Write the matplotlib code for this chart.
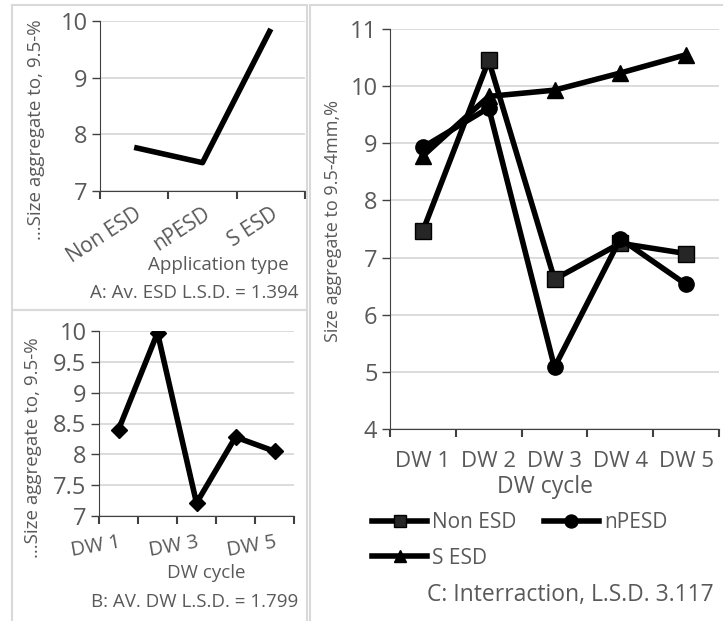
import matplotlib
matplotlib.use("Agg")
import matplotlib.pyplot as plt
from matplotlib.patches import Rectangle

plt.rcParams['font.family'] = ['Open Sans', 'DejaVu Sans']

# data
app_types = ['Non ESD', 'nPESD', 'S ESD']
app_means = [7.77, 7.50, 9.86]

dw_cycles = ['DW 1', 'DW 2', 'DW 3', 'DW 4', 'DW 5']
dw_means = [8.40, 9.97, 7.21, 8.28, 8.05]

non_esd = [7.47, 10.45, 6.62, 7.25, 7.07]
npesd = [8.93, 9.62, 5.08, 7.33, 6.53]
s_esd = [8.78, 9.82, 9.93, 10.23, 10.55]

W, H = 723, 621
fig = plt.figure(figsize=(W / 100, H / 100), dpi=100)

GRAY = '#595959'
GRID = '#d9d9d9'


def px_axes(x0, y0, x1, y1):
    # pixel box (top-left origin) -> figure axes
    return fig.add_axes([x0 / W, 1 - y1 / H, (x1 - x0) / W, (y1 - y0) / H])


def frame(x0, y0, x1, y1):
    fig.patches.append(Rectangle((x0 / W, 1 - y1 / H), (x1 - x0) / W, (y1 - y0) / H,
                                 transform=fig.transFigure, fill=False,
                                 edgecolor=GRID, linewidth=1.5))


def style(ax, n):
    ax.set_xlim(0, n)
    for s in ['top', 'right']:
        ax.spines[s].set_visible(False)
    ax.spines['left'].set_color('#404040')
    ax.spines['bottom'].set_color('#404040')
    ax.grid(axis='y', color=GRID, linewidth=1.3)
    ax.set_axisbelow(True)
    ax.set_xticks(range(n + 1), minor=False)
    ax.set_xticks([i + 0.5 for i in range(n)], minor=True)
    ax.tick_params(axis='x', which='major', length=6, width=1.5, color='#404040', labelbottom=False)
    ax.tick_params(axis='x', which='minor', length=0, colors=GRAY)
    ax.tick_params(axis='y', length=6, width=1, color='#404040', labelcolor=GRAY, labelsize=17, pad=3)


frame(12, 5, 307, 310)
frame(12, 310, 307, 640)
frame(310, 5, 740, 640)

# Panel A
axA = px_axes(100, 21, 305, 191)
xa = [i + 0.5 for i in range(len(app_types))]
axA.plot(xa, app_means, color='black', linewidth=4, solid_capstyle='butt')
style(axA, len(app_types))
axA.set_ylim(7, 10)
axA.set_yticks([7, 8, 9, 10])
axA.set_xticklabels(app_types, minor=True, rotation=33, ha='right', va='top',
                    rotation_mode='anchor', color=GRAY)
axA.tick_params(axis='x', which='minor', labelsize=15, pad=9)
fig.text(36 / W, 1 - 130 / H, '...Size aggregate to, 9.5-%', rotation=90, ha='center', va='center',
         color=GRAY, fontsize=13.5)
fig.text(218 / W, 1 - 265 / H, 'Application type', ha='center', va='center', color=GRAY, fontsize=13.5)
fig.text(298 / W, 1 - 293 / H, 'A: Av. ESD L.S.D. = 1.394', ha='right', va='center', color=GRAY,
         fontsize=13.5)

# Panel B
axB = px_axes(99, 331, 294, 516)
xb = [i + 0.5 for i in range(len(dw_cycles))]
axB.plot(xb, dw_means, color='black', linewidth=4, marker='D', markersize=8)
style(axB, len(dw_cycles))
axB.set_ylim(7, 10)
axB.set_yticks([7, 7.5, 8, 8.5, 9, 9.5, 10])
axB.set_yticklabels(['7', '7.5', '8', '8.5', '9', '9.5', '10'])
axB.set_xticklabels([c if i % 2 == 0 else '' for i, c in enumerate(dw_cycles)], minor=True,
                    rotation=10, ha='right', va='top', rotation_mode='anchor', color=GRAY)
axB.tick_params(axis='x', which='minor', labelsize=14.5, pad=12)
fig.text(33 / W, 1 - 448 / H, '...Size aggregate to, 9.5-%', rotation=90, ha='center', va='center',
         color=GRAY, fontsize=13.5)
fig.text(206 / W, 1 - 573 / H, 'DW cycle', ha='center', va='center', color=GRAY, fontsize=13.5)
fig.text(298 / W, 1 - 602 / H, 'B: AV. DW L.S.D. = 1.799', ha='right', va='center', color=GRAY,
         fontsize=13.5)

# Panel C
axC = px_axes(390, 29, 719, 429)
xc = [i + 0.5 for i in range(len(dw_cycles))]
l1, = axC.plot(xc, non_esd, color='black', linewidth=4, marker='s', markersize=11,
               markerfacecolor='#262626', label='Non ESD')
l2, = axC.plot(xc, npesd, color='black', linewidth=4, marker='o', markersize=11, label='nPESD')
l3, = axC.plot(xc, s_esd, color='black', linewidth=4, marker='^', markersize=11, label='S ESD')
style(axC, len(dw_cycles))
axC.set_ylim(4, 11)
axC.set_yticks(range(4, 12))
axC.set_xticklabels(dw_cycles, minor=True, color=GRAY)
axC.tick_params(axis='x', which='minor', labelsize=16, pad=16)
fig.text(333 / W, 1 - 221 / H, 'Size aggregate to 9.5-4mm,%', rotation=90, ha='center', va='center',
         color=GRAY, fontsize=13)
fig.text(545 / W, 1 - 487 / H, 'DW cycle', ha='center', va='center', color=GRAY, fontsize=16.5)
leg = fig.legend(handles=[l1, l3, l2], loc='upper left', bbox_to_anchor=(372 / W, 1 - 512 / H),
                 ncol=2, frameon=False, fontsize=15, borderpad=0, borderaxespad=0,
                 handlelength=2.65, handletextpad=0.25, columnspacing=1.3, labelspacing=0.7,
                 markerscale=0.85)
for t in leg.get_texts():
    t.set_color(GRAY)
fig.text(714 / W, 1 - 595 / H, 'C: Interraction, L.S.D. 3.117', ha='right', va='center', color=GRAY,
         fontsize=16.5)

fig.savefig('out.png', dpi=100)
